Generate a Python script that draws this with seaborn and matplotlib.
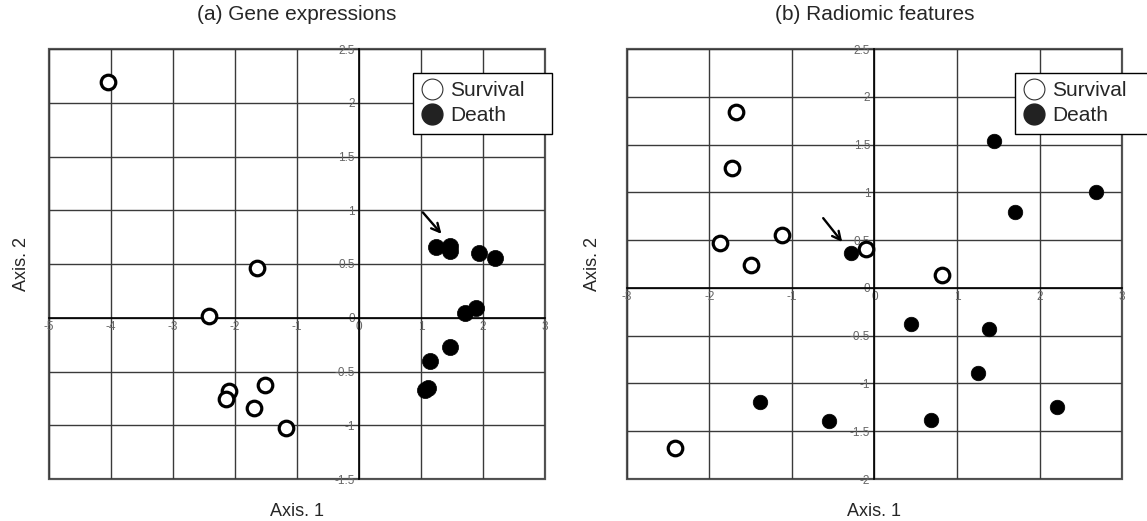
import matplotlib
matplotlib.use("Agg")
import matplotlib.pyplot as plt
from matplotlib.lines import Line2D
import seaborn as sns
import pandas as pd

# ---------------- data ----------------
# (a) Gene expressions
gene_surv_x = [-4.05, -1.65, -2.42, -2.09, -2.145, -1.51, -1.70, -1.17]
gene_surv_y = [2.19, 0.466, 0.016, -0.68, -0.756, -0.63, -0.836, -1.03]
gene_death_x = [1.24, 1.46, 1.46, 1.93, 2.19, 1.71, 1.88, 1.47, 1.15, 1.11, 1.06]
gene_death_y = [0.66, 0.665, 0.62, 0.60, 0.56, 0.047, 0.093, -0.27, -0.40, -0.65, -0.67]
gene_arrow_tail = (1.03, 0.98)
gene_arrow_head = (1.33, 0.78)

# (b) Radiomic features
rad_surv_x = [-1.67, -1.73, -1.87, -1.12, -1.50, -0.10, 0.82, -2.42]
rad_surv_y = [1.84, 1.255, 0.47, 0.55, 0.24, 0.41, 0.14, -1.68]
rad_death_x = [-0.28, 1.45, 1.70, 2.68, 0.44, 1.385, 1.26, -1.385, -0.555, 0.69, 2.21]
rad_death_y = [0.37, 1.535, 0.79, 1.00, -0.38, -0.435, -0.89, -1.19, -1.396, -1.38, -1.25]
rad_arrow_tail = (-0.62, 0.73)
rad_arrow_head = (-0.39, 0.48)

titles = ["(a) Gene expressions", "(b) Radiomic features"]
xlabel = "Axis. 1"
ylabel = "Axis. 2"
legend_labels = ["Survival", "Death"]

gene_xticks = [-5, -4, -3, -2, -1, 0, 1, 2, 3]
gene_yticks = [-1.5, -1, -0.5, 0, 0.5, 1, 1.5, 2, 2.5]
rad_xticks = [-3, -2, -1, 0, 1, 2, 3]
rad_yticks = [-2, -1.5, -1, -0.5, 0, 0.5, 1, 1.5, 2, 2.5]

# ---------------- style ----------------
sns.set_style("white")
plt.rcParams["font.family"] = ["Liberation Sans", "DejaVu Sans"]

W, H = 1147, 521
fig = plt.figure(figsize=(W / 100, H / 100), dpi=100)

def fmt(v):
    return f"{v:g}"

leg_w, leg_h = 139 / W, 61 / H
panels = [
    dict(rect=[49 / W, 42 / H, 496 / W, 430 / H],
         sx=gene_surv_x, sy=gene_surv_y, dx=gene_death_x, dy=gene_death_y,
         xt=gene_xticks, yt=gene_yticks, arrow=(gene_arrow_tail, gene_arrow_head),
         ylab_x=-0.038, leg=(413 / W, 1 - 72.7 / H - leg_h), dsize=135),
    dict(rect=[626.6 / W, 42 / H, 495.6 / W, 430 / H],
         sx=rad_surv_x, sy=rad_surv_y, dx=rad_death_x, dy=rad_death_y,
         xt=rad_xticks, yt=rad_yticks, arrow=(rad_arrow_tail, rad_arrow_head),
         ylab_x=-0.052, leg=(1015 / W, 1 - 72.7 / H - leg_h), dsize=110),
]

for i, p in enumerate(panels):
    ax = fig.add_axes(p["rect"])
    df_s = pd.DataFrame({"x": p["sx"], "y": p["sy"]})
    df_d = pd.DataFrame({"x": p["dx"], "y": p["dy"]})
    sns.scatterplot(data=df_s, x="x", y="y", ax=ax, s=110, facecolor="white",
                    edgecolor="black", linewidth=2.3, zorder=5, legend=False)
    sns.scatterplot(data=df_d, x="x", y="y", ax=ax, s=p["dsize"], color="black",
                    edgecolor="black", linewidth=0.5, zorder=5, legend=False)

    ax.set_xlim(p["xt"][0], p["xt"][-1])
    ax.set_ylim(p["yt"][0], p["yt"][-1])
    ax.set_xticks(p["xt"])
    ax.set_yticks(p["yt"])
    ax.set_xticklabels([fmt(v) for v in p["xt"]])
    ax.set_yticklabels([fmt(v) for v in p["yt"]])

    ax.grid(True, color="#3a3a3a", linewidth=1.0)
    ax.set_axisbelow(True)

    # axis lines crossing at zero
    ax.spines["left"].set_position(("data", 0))
    ax.spines["bottom"].set_position(("data", 0))
    for k in ["left", "bottom"]:
        ax.spines[k].set_color("black")
        ax.spines[k].set_linewidth(1.2)
    for k in ["top", "right"]:
        ax.spines[k].set_visible(False)
    ax.patch.set_edgecolor("#555555")
    ax.patch.set_linewidth(1.6)

    ax.tick_params(axis="both", length=0, labelsize=8.5, labelcolor="#666666")
    ax.tick_params(axis="x", pad=2)
    ax.tick_params(axis="y", pad=3)

    ax.set_xlabel(xlabel, fontsize=13)
    ax.set_ylabel(ylabel, fontsize=13)
    ax.xaxis.set_label_coords(0.5, -0.056)
    ax.yaxis.set_label_coords(p["ylab_x"], 0.5)
    ax.set_title(titles[i], fontsize=15, pad=21)

    tail, head = p["arrow"]
    ax.annotate("", xy=head, xytext=tail,
                arrowprops=dict(arrowstyle="->", color="black", lw=1.7,
                                mutation_scale=15, shrinkA=0, shrinkB=0),
                zorder=6)

    handles = [
        Line2D([], [], marker="o", linestyle="none", markersize=15,
               markerfacecolor="white", markeredgecolor="#333333", markeredgewidth=0.8),
        Line2D([], [], marker="o", linestyle="none", markersize=15,
               markerfacecolor="#222222", markeredgecolor="#222222"),
    ]
    leg = ax.legend(handles, legend_labels, loc="upper left", mode="expand",
                    bbox_to_anchor=(p["leg"][0], p["leg"][1], leg_w, leg_h),
                    bbox_transform=fig.transFigure,
                    frameon=True, fancybox=False, fontsize=15,
                    handlelength=1.0, handletextpad=0.4, labelspacing=0.3,
                    borderpad=0.4, borderaxespad=0, framealpha=1)
    leg.get_frame().set_edgecolor("black")
    leg.get_frame().set_linewidth(1.0)
    leg.set_zorder(10)

fig.savefig("out.png", dpi=100)
